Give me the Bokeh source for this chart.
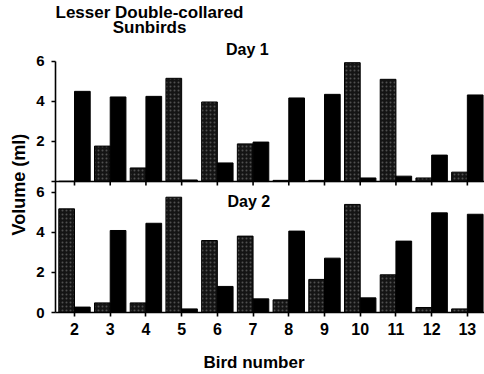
import numpy as np
from bokeh.plotting import figure
from bokeh.models import Range1d, FixedTicker, Label, ColumnDataSource, Span, Title
from bokeh.embed import file_html
from bokeh.resources import INLINE

# ---- data ----
birds = [2, 3, 4, 5, 6, 7, 8, 9, 10, 11, 12, 13]
day1_grey = [0.02, 1.77, 0.68, 5.15, 3.97, 1.88, 0.06, 0.06, 5.93, 5.10, 0.18, 0.47]
day1_black = [4.50, 4.22, 4.25, 0.08, 0.93, 1.97, 4.17, 4.35, 0.18, 0.27, 1.32, 4.32]
day2_grey = [5.17, 0.48, 0.48, 5.75, 3.59, 3.81, 0.63, 1.65, 5.39, 1.88, 0.25, 0.18]
day2_black = [0.27, 4.09, 4.45, 0.18, 1.30, 0.68, 4.06, 2.71, 0.73, 3.56, 4.97, 4.90]
y_ticks = [0, 2, 4, 6]
title_lines = ["Lesser Double-collared", "Sunbirds"]
panel_titles = ["Day 1", "Day 2"]
x_title = "Bird number"
y_title = "Volume (ml)"

FONT = "Liberation Sans"
BW = 0.44
X0, X1 = 1.468, 13.48
PX = 20.05                 # pixels per ml
Y_END = 312 / PX
OFF = 6.53                 # baseline of the Day 1 panel in plot units

b = np.array(birds, dtype=float)
src = ColumnDataSource(dict(
    xg=b - BW / 2, xb=b + BW / 2,
    d1g=np.array(day1_grey) + OFF, d1b=np.array(day1_black) + OFF,
    d2g=day2_grey, d2b=day2_black,
))

p = figure(width=484, height=374, x_range=Range1d(X0, X1), y_range=Range1d(0, Y_END),
           output_backend="svg", toolbar_location=None,
           min_border_left=55, min_border_right=0, min_border_top=0, min_border_bottom=62)
p.grid.visible = False
p.outline_line_color = None
p.background_fill_color = "white"

grey_style = dict(fill_color="#141414", line_color="#000000", line_width=1,
                  hatch_pattern="dot", hatch_color="#9a9a9a", hatch_scale=4,
                  hatch_weight=1, hatch_alpha=0.45)
black_style = dict(fill_color="#000000", line_color="#000000", line_width=1)

# Day 2 (lower panel)
p.vbar(x="xg", top="d2g", bottom=0, width=BW, source=src, **grey_style)
p.vbar(x="xb", top="d2b", bottom=0, width=BW, source=src, **black_style)
# Day 1 (upper panel, shifted by OFF)
p.vbar(x="xg", top="d1g", bottom=OFF, width=BW, source=src, **grey_style)
p.vbar(x="xb", top="d1b", bottom=OFF, width=BW, source=src, **black_style)

# Day 1 baseline axis and its ticks
p.add_layout(Span(location=OFF, dimension="width", line_color="black", line_width=1.6))
p.segment(x0=b, y0=OFF, x1=b, y1=OFF - 4 / PX, line_color="black", line_width=1.6)


def style_axis(ax, size):
    ax.axis_line_width = 1.6
    ax.axis_line_color = "black"
    ax.major_tick_line_width = 1.6
    ax.major_tick_line_color = "black"
    ax.major_tick_out = 4
    ax.major_tick_in = 0
    ax.minor_tick_line_color = None
    ax.major_label_text_font = FONT
    ax.major_label_text_font_style = "bold"
    ax.major_label_text_font_size = size
    ax.major_label_text_color = "black"


xa = p.xaxis[0]
xa.ticker = FixedTicker(ticks=birds)
style_axis(xa, "16px")
xa.major_label_standoff = 6

ticks2 = [float(t) for t in y_ticks]
ticks1 = [float(t) + OFF for t in y_ticks]
overrides = {t: str(v) for t, v in zip(ticks2, y_ticks)}
overrides.update({t: (str(v) if v != 0 else "") for t, v in zip(ticks1, y_ticks)})
ya = p.yaxis[0]
ya.ticker = FixedTicker(ticks=ticks2 + ticks1)
ya.major_label_overrides = overrides
ya.bounds = (0, OFF + 6)
style_axis(ya, "15px")
ya.major_label_standoff = 7

# texts
tstyle = dict(text_font=FONT, text_font_style="bold", text_color="black",
              text_align="center", text_baseline="alphabetic")
p.add_layout(Label(x=4.10, y=14.95, text=title_lines[0], text_font_size="17px", **tstyle))
p.add_layout(Label(x=4.10, y=14.19, text=title_lines[1], text_font_size="17px", **tstyle))
p.add_layout(Label(x=6.84, y=13.12, text=panel_titles[0], text_font_size="16px", **tstyle))
p.add_layout(Label(x=6.88, y=5.52, text=panel_titles[1], text_font_size="16px", **tstyle))

tt = dict(text_font=FONT, text_font_style="bold", text_color="black", align="left")
p.add_layout(Title(text=" ", text_font_size="1px", standoff=16, align="left"), "below")
p.add_layout(Title(text=x_title, offset=148, standoff=-8, vertical_align="top",
                   text_font_size="17px", **tt), "below")
p.add_layout(Title(text=y_title, offset=77, text_font_size="18px", **tt), "left")

open("out.html", "w").write(file_html(p, INLINE))
